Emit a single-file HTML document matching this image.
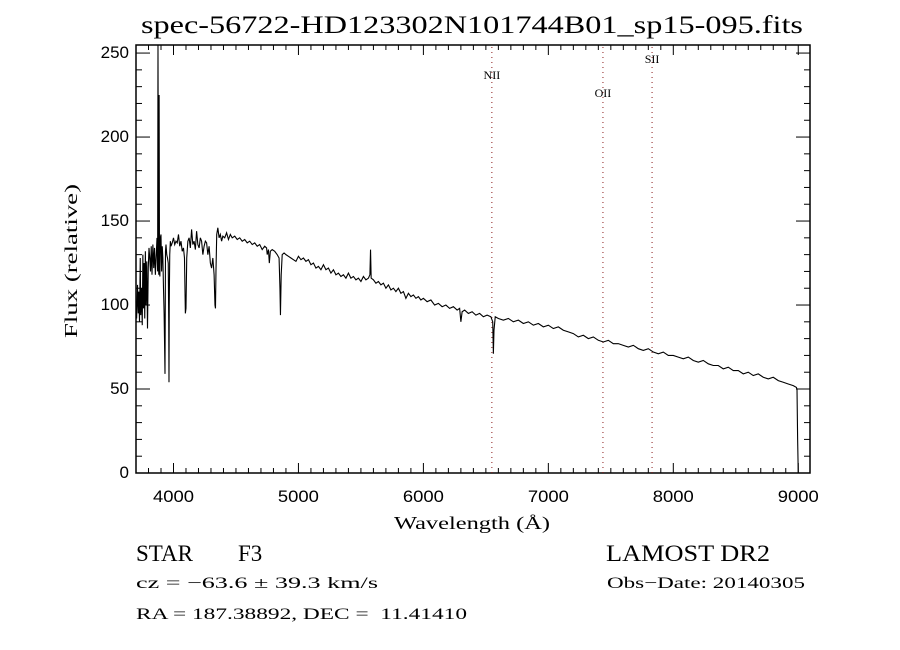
<!DOCTYPE html>
<html><head><meta charset="utf-8"><style>
html,body{margin:0;padding:0;background:#fff;}
svg{display:block;}
text{fill:#000;}
</style></head><body>
<svg id="chart" width="900" height="650" viewBox="0 0 900 650" xmlns="http://www.w3.org/2000/svg">
<rect x="0" y="0" width="900" height="650" fill="#fff"/>
<text x="472" y="33" text-anchor="middle" font-family="Liberation Serif, serif" font-size="25" textLength="662" lengthAdjust="spacingAndGlyphs">spec-56722-HD123302N101744B01_sp15-095.fits</text>
<g id="axes"></g>
<g id="lines"></g>
<g id="series"></g>
<text x="472" y="529" text-anchor="middle" font-family="Liberation Serif, serif" font-size="18" textLength="156" lengthAdjust="spacingAndGlyphs">Wavelength (Å)</text>
<text transform="translate(77,261) rotate(-90)" text-anchor="middle" font-family="Liberation Serif, serif" font-size="18" textLength="154" lengthAdjust="spacingAndGlyphs">Flux (relative)</text>
<text x="136" y="561" font-family="Liberation Serif, serif" font-size="23" textLength="57" lengthAdjust="spacingAndGlyphs">STAR</text>
<text x="238" y="561" font-family="Liberation Serif, serif" font-size="23">F3</text>
<text x="606" y="561" font-family="Liberation Serif, serif" font-size="23" textLength="164" lengthAdjust="spacingAndGlyphs">LAMOST DR2</text>
<text x="136" y="588" font-family="Liberation Serif, serif" font-size="16" textLength="242" lengthAdjust="spacingAndGlyphs">cz = −63.6 ± 39.3 km/s</text>
<text x="607" y="588" font-family="Liberation Serif, serif" font-size="16" textLength="198" lengthAdjust="spacingAndGlyphs">Obs−Date: 20140305</text>
<text x="136" y="619" font-family="Liberation Serif, serif" font-size="16" textLength="331" lengthAdjust="spacingAndGlyphs" xml:space="preserve">RA = 187.38892, DEC =  11.41410</text>
</svg>
<script>
const xTicks = [4000, 5000, 6000, 7000, 8000, 9000];
const yTicks = [0, 50, 100, 150, 200, 250];
const lineNames = ["NII", "OII", "SII"];
const lineWaves = [6548, 7437, 7830];
const lineLabelY = [79, 97, 63];
const wave = [
3700,3705,3712,3718,3722,3728,3734,3738,3744,3750,
3755,3760,3765,3770,3775,3780,3786,3792,3798,3804,
3810,3816,3822,3828,3835,3842,3848,3855,3862,3868,
3873,3876,3879,3882,3885,3888,3891,3895,3900,3905,
3910,3915,3920,3925,3928,3932,3936,3940,3946,3952,
3958,3962,3964,3966,3970,3975,3980,3990,4000,4010,
4020,4030,4040,4050,4060,4070,4080,4088,4095,4100,
4106,4115,4125,4135,4145,4155,4165,4175,4185,4195,
4205,4215,4225,4235,4245,4255,4265,4275,4285,4295,
4305,4315,4325,4332,4336,4340,4346,4355,4365,4375,
4385,4395,4410,4425,4440,4455,4470,4490,4510,4530,
4550,4570,4590,4610,4630,4650,4670,4690,4710,4730,
4745,4750,4760,4767,4775,4790,4810,4830,4845,4852,
4856,4862,4870,4885,4900,4920,4940,4960,4980,5000,
5020,5040,5060,5080,5100,5120,5140,5160,5180,5200,
5220,5240,5260,5280,5300,5320,5340,5360,5380,5400,
5420,5440,5460,5480,5500,5520,5540,5560,5572,5577,
5582,5600,5620,5640,5660,5680,5700,5720,5740,5760,
5780,5800,5820,5840,5860,5880,5900,5920,5940,5960,
5980,6000,6030,6060,6090,6120,6150,6180,6210,6240,
6270,6290,6300,6310,6330,6360,6390,6420,6450,6480,
6510,6540,6555,6560,6565,6575,6600,6640,6680,6720,
6760,6800,6840,6880,6920,6960,7000,7040,7080,7120,
7160,7200,7240,7280,7320,7360,7400,7440,7480,7520,
7560,7600,7640,7680,7720,7760,7800,7840,7880,7920,
7960,8000,8040,8080,8120,8160,8200,8240,8280,8320,
8360,8400,8440,8480,8520,8560,8600,8640,8680,8720,
8760,8800,8840,8880,8920,8960,8985,8990,8995,9000];
const flux = [
102,92,112,95,108,90,128,94,110,88,
130,98,125,92,132,100,126,86,122,134,
128,120,135,118,136,122,134,118,130,140,
120,255,150,118,225,125,117,140,142,120,
135,128,110,95,80,59,132,136,130,128,
125,90,54,100,130,138,135,137,140,136,
138,137,142,135,138,132,134,128,95,98,
128,138,140,134,145,136,138,133,144,136,
134,140,138,130,135,138,137,130,135,125,
122,128,118,100,98,120,142,146,140,142,
138,141,140,143,139,142,140,141,139,140,
138,139,137,138,136,137,135,136,133,135,
134,130,133,125,132,133,132,130,128,110,
94,118,130,131,130,129,128,127,126,129,
127,128,126,127,124,125,122,123,121,124,
121,122,119,121,118,119,117,118,116,119,
116,117,115,116,114,117,115,116,118,133,
116,115,113,114,112,113,110,112,109,110,
108,110,107,108,104,107,105,106,104,105,
103,104,102,103,100,101,99,100,98,99,
97,98,90,96,97,95,96,94,95,93,
94,93,90,71,85,93,92,91,92,90,
91,89,90,88,89,87,88,86,87,85,
84,83,81,82,80,81,79,78,79,77,
77,76,75,76,74,73,74,72,71,72,
70,70,69,68,69,67,66,67,65,64,
64,62,63,61,61,59,60,58,59,57,
56,57,55,54,53,52,51,50,20,0];

const X0 = 136, X1 = 810, Y0 = 45, Y1 = 473;
const XMIN = 3700, XMAX = 9094, YMIN = 0, YMAX = 254.8;
const NS = "http://www.w3.org/2000/svg";
function sx(w){ return X0 + (w - XMIN) / (XMAX - XMIN) * (X1 - X0); }
function sy(f){ return Y1 - (Math.min(f, YMAX) - YMIN) / (YMAX - YMIN) * (Y1 - Y0); }
function mk(tag, attrs, parent){ const e = document.createElementNS(NS, tag); for (const k in attrs) e.setAttribute(k, attrs[k]); parent.appendChild(e); return e; }

const axes = document.getElementById('axes');
const frame = mk('rect', {x:X0, y:Y0, width:X1-X0, height:Y1-Y0, fill:'none', stroke:'#000', 'stroke-width':1.5}, axes);



for (let w = 3800; w <= 9000; w += 100) {
  const x = sx(w);
  const major = (w % 1000 === 0);
  const L = major ? 10 : 5;
  const t1 = mk('line', {x1:x, y1:Y1, x2:x, y2:Y1-L, stroke:'#000', 'stroke-width':1}, axes);
  
  
  const t2 = mk('line', {x1:x, y1:Y0, x2:x, y2:Y0+L, stroke:'#000', 'stroke-width':1}, axes);
  
  
}
xTicks.forEach(function(v){
  const t = mk('text', {x:sx(v), y:502, 'text-anchor':'middle', 'font-family':'Liberation Sans, sans-serif', 'font-size':17, textLength:41, lengthAdjust:'spacingAndGlyphs'}, axes);
  t.textContent = v;
  
  
});
for (let f = 0; f <= 250; f += 10) {
  const y = sy(f);
  const major = (f % 50 === 0);
  const L = major ? 14 : 6;
  const t1 = mk('line', {x1:X0, y1:y, x2:X0+L, y2:y, stroke:'#000', 'stroke-width':1}, axes);
  
  
  const t2 = mk('line', {x1:X1, y1:y, x2:X1-L, y2:y, stroke:'#000', 'stroke-width':1}, axes);
  
  
}
yTicks.forEach(function(v){
  const t = mk('text', {x:129, y:sy(v)+5, 'text-anchor':'end', 'font-family':'Liberation Sans, sans-serif', 'font-size':17}, axes);
  t.textContent = v;
  
  
});

const lg = document.getElementById('lines');
lineWaves.forEach(function(w, i){
  const x = sx(w);
  const l = mk('line', {x1:x, y1:Y0+2, x2:x, y2:Y1, stroke:'#8b1a1a', 'stroke-width':1, 'stroke-dasharray':'1 4'}, lg);
  
  
  const t = mk('text', {x:x, y:lineLabelY[i], 'text-anchor':'middle', 'font-family':'Liberation Serif, serif', 'font-size':12}, lg);
  t.textContent = lineNames[i];
  
  
});

const sg = document.getElementById('series');
let d = '';
const n = Math.min(wave.length, flux.length);
for (let i = 0; i < n; i++) { d += (i ? 'L' : 'M') + sx(wave[i]).toFixed(2) + ' ' + sy(flux[i]).toFixed(2); }
const p = mk('path', {d:d, fill:'none', stroke:'#000', 'stroke-width':1.1, 'stroke-linejoin':'miter'}, sg);


</script>
</body></html>
